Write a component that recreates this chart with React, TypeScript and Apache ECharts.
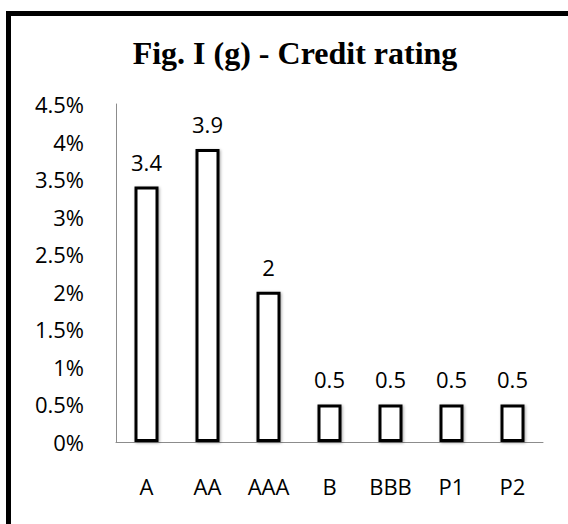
import React, { useEffect, useRef } from "react";
import * as echarts from "echarts";

const categories = ["A", "AA", "AAA", "B", "BBB", "P1", "P2"];
const values = [3.4, 3.9, 2, 0.5, 0.5, 0.5, 0.5];
const titleText = "Fig. I (g) - Credit rating";

export default function App() {
  const ref = useRef<HTMLDivElement>(null);
  useEffect(() => {
    document.body.style.margin = "0";
    const chart = echarts.init(ref.current!, null, { renderer: "svg" });
    const labelFont = "'Open Sans', 'Noto Sans', sans-serif";
    chart.setOption({
      animation: false,
      backgroundColor: "#ffffff",
      title: {
        text: titleText,
        left: 290,
        top: 32,
        textAlign: "center",
        textStyle: {
          fontFamily: "'Liberation Serif', 'DejaVu Serif', serif",
          fontWeight: "bold",
          fontSize: 32,
          color: "#000",
        },
      },
      graphic: [
        {
          type: "rect",
          shape: { x: 8.5, y: 13.5, width: 700, height: 700 },
          style: { fill: "none", stroke: "#000", lineWidth: 5 },
          silent: true,
        },
      ],
      grid: { left: 116, right: 25, top: 104, bottom: 82 },
      xAxis: {
        type: "category",
        data: categories,
        axisLine: { show: true, lineStyle: { color: "#8c8c8c", width: 1 } },
        axisTick: { show: false },
        axisLabel: {
          color: "#000",
          fontSize: 22,
          fontFamily: labelFont,
          margin: 33,
        },
      },
      yAxis: {
        type: "value",
        min: 0,
        max: 4.5,
        interval: 0.5,
        axisLine: { show: true, lineStyle: { color: "#8c8c8c", width: 1 } },
        axisTick: { show: false },
        splitLine: { show: false },
        axisLabel: {
          color: "#000",
          fontSize: 22,
          fontFamily: labelFont,
          margin: 32,
          formatter: (v: number) => `${v}%`,
        },
      },
      series: [
        {
          type: "bar",
          data: values,
          barWidth: 24,
          itemStyle: {
            color: "#ffffff",
            borderColor: "#000",
            borderWidth: 3,
            shadowColor: "rgba(0,0,0,0.35)",
            shadowBlur: 3,
            shadowOffsetX: 1,
            shadowOffsetY: 1,
          },
          label: {
            show: true,
            position: "top",
            distance: 14,
            color: "#000",
            fontSize: 22,
            fontFamily: labelFont,
          },
        },
      ],
    });
    return () => chart.dispose();
  }, []);
  return <div ref={ref} style={{ width: 568, height: 524 }} />;
}
